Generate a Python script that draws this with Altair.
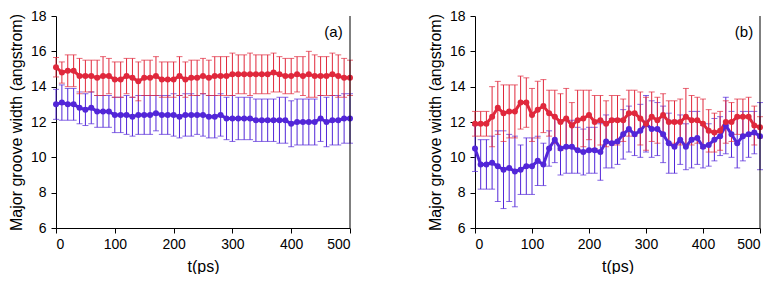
import altair as alt
import pandas as pd

t = list(range(0, 501, 10))

a_red = [15.1, 14.8, 14.9, 14.9, 14.6, 14.6, 14.6, 14.5, 14.6, 14.6,
         14.4, 14.4, 14.6, 14.5, 14.3, 14.5, 14.5, 14.6, 14.4, 14.4,
         14.4, 14.6, 14.4, 14.5, 14.5, 14.6, 14.5, 14.6, 14.6, 14.6,
         14.7, 14.7, 14.7, 14.7, 14.7, 14.7, 14.7, 14.8, 14.7, 14.6,
         14.6, 14.7, 14.6, 14.7, 14.6, 14.6, 14.6, 14.7, 14.6, 14.5, 14.5]
a_red_err = [0.55, 0.6, 0.9, 0.9, 1.0, 0.9, 0.9, 1.0, 1.1, 1.0,
             1.0, 1.0, 1.0, 1.1, 1.1, 1.0, 1.0, 1.1, 1.0, 1.0,
             1.0, 1.1, 1.0, 1.0, 1.0, 1.0, 1.0, 1.1, 1.1, 1.1,
             1.2, 1.1, 1.1, 1.2, 1.1, 1.1, 1.1, 1.1, 1.0, 1.0,
             1.0, 1.0, 1.1, 1.3, 1.2, 1.1, 1.1, 1.2, 1.2, 1.1, 1.0]
a_blue = [13.0, 13.1, 13.0, 13.0, 12.8, 12.7, 12.8, 12.6, 12.6, 12.6,
          12.4, 12.4, 12.4, 12.3, 12.4, 12.4, 12.4, 12.5, 12.4, 12.4,
          12.4, 12.3, 12.4, 12.4, 12.4, 12.4, 12.3, 12.3, 12.4, 12.2,
          12.2, 12.2, 12.2, 12.2, 12.1, 12.1, 12.1, 12.1, 12.1, 12.1,
          11.9, 12.0, 12.0, 12.0, 12.0, 12.2, 12.0, 12.1, 12.1, 12.2, 12.2]
a_blue_err = [0.85, 1.0, 0.9, 0.9, 0.9, 0.9, 0.9, 0.9, 0.9, 0.9,
              1.0, 1.0, 1.1, 1.1, 1.1, 1.1, 1.1, 1.0, 1.1, 1.1,
              1.2, 1.2, 1.2, 1.2, 1.1, 1.2, 1.2, 1.2, 1.2, 1.2,
              1.3, 1.2, 1.2, 1.2, 1.2, 1.2, 1.2, 1.2, 1.3, 1.3,
              1.3, 1.3, 1.3, 1.3, 1.3, 1.3, 1.4, 1.4, 1.4, 1.4, 1.4]

b_red = [11.9, 11.9, 11.9, 12.3, 12.8, 12.5, 12.6, 12.6, 13.1, 13.1,
         12.4, 12.7, 12.9, 12.5, 12.3, 12.0, 12.2, 11.8, 12.1, 12.2,
         12.4, 12.0, 12.1, 11.9, 12.1, 12.1, 12.1, 12.5, 12.5, 12.2,
         11.9, 12.3, 12.1, 12.4, 12.0, 12.0, 12.0, 12.3, 12.1, 12.1,
         11.9, 11.5, 11.4, 11.5, 12.0, 12.0, 12.3, 12.3, 12.3, 11.8, 11.7]
b_red_err = [0.7, 0.7, 0.7, 1.7, 1.5, 1.6, 1.5, 1.5, 1.5, 1.4,
             1.5, 1.6, 1.5, 1.3, 1.5, 1.6, 1.7, 1.3, 1.7, 1.6,
             1.4, 1.5, 1.4, 1.3, 1.4, 1.4, 1.2, 1.3, 1.3, 1.5,
             1.5, 1.4, 1.3, 1.2, 1.2, 1.2, 1.3, 1.6, 1.4, 1.3,
             1.4, 1.2, 1.1, 1.1, 1.2, 1.1, 1.0, 1.0, 1.1, 1.1, 0.6]
b_blue = [10.5, 9.6, 9.6, 9.7, 9.5, 9.3, 9.4, 9.2, 9.3, 9.5,
          9.5, 9.8, 9.6, 10.5, 11.0, 10.5, 10.6, 10.6, 10.4, 10.3,
          10.4, 10.4, 10.3, 10.9, 10.8, 10.9, 11.3, 11.6, 11.3, 11.5,
          11.9, 11.6, 11.6, 11.3, 10.8, 10.6, 11.0, 10.6, 11.0, 11.1,
          10.6, 10.7, 11.0, 11.2, 11.8, 11.3, 10.8, 11.2, 11.3, 11.4, 11.2]
b_blue_err = [1.3, 1.4, 1.4, 1.5, 2.0, 2.2, 1.9, 2.0, 1.4, 1.6,
              1.6, 1.4, 1.2, 1.0, 1.3, 1.5, 1.5, 1.5, 1.3, 1.3,
              1.3, 1.3, 1.6, 1.5, 1.4, 1.3, 1.4, 1.3, 1.2, 1.5,
              1.6, 1.6, 1.5, 1.6, 1.7, 1.5, 1.4, 1.3, 1.6, 1.5,
              1.2, 1.2, 1.2, 1.1, 1.6, 1.3, 1.4, 1.4, 1.3, 1.2, 1.9]

panel_labels = ["(a)", "(b)"]
x_ticks = [0, 100, 200, 300, 400, 500]
y_ticks = [6, 8, 10, 12, 14, 16, 18]

RED = "#ee1530"
BLUE = "#4a16e0"
RED_BAR = "#e0283c"
BLUE_BAR = "#5226d8"
FONT = "Liberation Sans"


def panel(red, red_err, blue, blue_err, label, width):
    rows = []
    for s, m, e in (("blue", blue, blue_err), ("red", red, red_err)):
        for ti, mi, ei in zip(t, m, e):
            rows.append({"t": ti, "v": mi, "lo": mi - ei, "hi": mi + ei, "s": s})
    df = pd.DataFrame(rows)

    xs = alt.Scale(domain=[0, 500], nice=False)
    ys = alt.Scale(domain=[6, 18], nice=False)
    col = alt.Color("s:N", scale=alt.Scale(domain=["red", "blue"], range=[RED, BLUE]), legend=None)
    bcol = alt.Color("s:N", scale=alt.Scale(domain=["red", "blue"], range=[RED_BAR, BLUE_BAR]),
                     legend=None)

    xax = alt.Axis(values=x_ticks, tickCount=6, grid=False, title="t(ps)", tickSize=5,
                   labelPadding=4, titlePadding=7, domainColor="black", tickColor="black",
                   labelOverlap=False, labelFont=FONT, titleFont=FONT, labelFontSize=14,
                   titleFontSize=16, labelColor="black", titleColor="black",
                   titleFontWeight="normal", format="d")
    yax = alt.Axis(values=y_ticks, tickCount=7, grid=False, title="Major groove width (angstrom)",
                   tickSize=5, labelPadding=5, titlePadding=6, domainColor="black",
                   tickColor="black", labelOverlap=False, labelFont=FONT, titleFont=FONT,
                   labelFontSize=14, titleFontSize=16, labelColor="black", titleColor="black",
                   titleFontWeight="normal", format="d")

    def X(f):
        return alt.X(f, scale=xs, axis=xax)

    def Y(f):
        return alt.Y(f, scale=ys, axis=yax)

    base = alt.Chart(df)
    bars = base.mark_rule(strokeWidth=1).encode(
        x=X("t:Q"), y=Y("lo:Q"), y2="hi:Q", color=bcol)
    cap_hi = base.mark_tick(orient="horizontal", size=6, thickness=1).encode(
        x=X("t:Q"), y=Y("hi:Q"), color=bcol)
    cap_lo = base.mark_tick(orient="horizontal", size=6, thickness=1).encode(
        x=X("t:Q"), y=Y("lo:Q"), color=bcol)
    line = base.mark_line(strokeWidth=3).encode(
        x=X("t:Q"), y=Y("v:Q"), color=col, detail="s:N", order=alt.Order("t:Q"))
    pts = base.mark_circle(size=36, opacity=1).encode(x=X("t:Q"), y=Y("v:Q"), color=col)

    frame = alt.Chart(pd.DataFrame({"x": [500], "y0": [6], "y1": [18]})).mark_rule(
        color="black", strokeWidth=1).encode(x=X("x:Q"), y=Y("y0:Q"), y2="y1:Q")
    txt = alt.Chart(pd.DataFrame({"x": [472], "y": [17.1], "lab": [label]})).mark_text(
        font=FONT, fontSize=15, color="black").encode(x=X("x:Q"), y=Y("y:Q"), text="lab:N")

    blue_layers = [l.transform_filter(alt.datum.s == "blue") for l in (bars, cap_hi, cap_lo)]
    red_layers = [l.transform_filter(alt.datum.s == "red") for l in (bars, cap_hi, cap_lo)]
    return alt.layer(*blue_layers, *red_layers, line, pts, frame, txt).properties(
        width=width, height=212)


pa = panel(a_red, a_red_err, a_blue, a_blue_err, panel_labels[0], 294)
pb = panel(b_red, b_red_err, b_blue, b_blue_err, panel_labels[1], 285)

chart = alt.hconcat(pa, pb, spacing=71).properties(
    padding={"left": 0, "top": 1, "right": 0, "bottom": 0},
    background="white",
).configure_view(stroke=None)

chart.save("out.html", embed_options={"renderer": "svg", "actions": False})
